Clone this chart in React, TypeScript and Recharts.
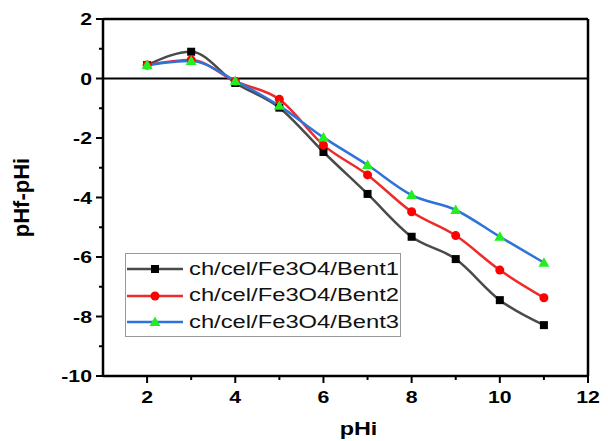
import React from 'react';
import { LineChart, Line, XAxis, YAxis, ReferenceLine, Legend, Label } from 'recharts';

const pHi = [2, 3, 4, 5, 6, 7, 8, 9, 10, 11];
const bent1 = [0.45, 0.9, -0.15, -0.98, -2.47, -3.88, -5.32, -6.07, -7.45, -8.29];
const bent2 = [0.45, 0.62, -0.1, -0.7, -2.24, -3.24, -4.48, -5.28, -6.44, -7.37];
const bent3 = [0.45, 0.59, -0.08, -0.92, -1.98, -2.91, -3.92, -4.42, -5.32, -6.19];
const seriesNames = ['ch/cel/Fe3O4/Bent1', 'ch/cel/Fe3O4/Bent2', 'ch/cel/Fe3O4/Bent3'];
const xTicks = [2, 3, 4, 5, 6, 7, 8, 9, 10, 11, 12];
const yTicks = [-10, -9, -8, -7, -6, -5, -4, -3, -2, -1, 0, 1, 2];

const data = pHi.map((x, i) => ({ x, b1: bent1[i], b2: bent2[i], b3: bent3[i] }));

const FONT = "Arial, 'Liberation Sans', sans-serif";
const LINE_COLORS = ['#4a4a4a', '#ee2a2a', '#2e73d8'];
const MARK_COLORS = ['#000000', '#ff0000', '#22ee22'];
const SX = 1.25;

const XTick = (props: any) => {
  const { x, y, payload } = props;
  const major = payload.value % 2 === 0;
  return (
    <g>
      <line x1={x} x2={x} y1={y} y2={y + (major ? 7 : 4)} stroke="#000" strokeWidth={2} />
      {major && (
        <text
          transform={`translate(${x},${y + 27}) scale(${SX},1)`}
          textAnchor="middle"
          fontFamily={FONT}
          fontWeight="bold"
          fontSize={17}
          fill="#000"
        >
          {payload.value}
        </text>
      )}
    </g>
  );
};

const YTick = (props: any) => {
  const { x, y, payload } = props;
  const major = Math.abs(payload.value) % 2 === 0;
  return (
    <g>
      <line x1={x} x2={x - (major ? 7 : 4)} y1={y} y2={y} stroke="#000" strokeWidth={2} />
      {major && (
        <text
          transform={`translate(${x - 11},${y}) scale(${SX},1)`}
          dy="0.36em"
          textAnchor="end"
          fontFamily={FONT}
          fontWeight="bold"
          fontSize={17}
          fill="#000"
        >
          {payload.value}
        </text>
      )}
    </g>
  );
};

const Square = (props: any) => {
  const { cx, cy, index } = props;
  return <rect key={'s' + index} x={cx - 4} y={cy - 4} width={8} height={8} fill={MARK_COLORS[0]} />;
};
const Circle = (props: any) => {
  const { cx, cy, index } = props;
  return <circle key={'c' + index} cx={cx} cy={cy} r={4.5} fill={MARK_COLORS[1]} />;
};
const Tri = (props: any) => {
  const { cx, cy, index } = props;
  return (
    <polygon
      key={'t' + index}
      points={`${cx},${cy - 5.5} ${cx - 5.5},${cy + 4} ${cx + 5.5},${cy + 4}`}
      fill={MARK_COLORS[2]}
    />
  );
};

const markerSvg = (i: number) => {
  if (i === 0) return <rect x={24} y={5} width={8} height={8} fill={MARK_COLORS[0]} />;
  if (i === 1) return <circle cx={28} cy={9} r={4.5} fill={MARK_COLORS[1]} />;
  return <polygon points="28,3.5 22.5,13 33.5,13" fill={MARK_COLORS[2]} />;
};

const LegendContent = () => (
  <div
    style={{
      border: '1px solid #999',
      background: '#fff',
      padding: '2px 0 2px 1px',
      fontFamily: FONT,
      fontSize: 18,
      color: '#111',
      width: 276,
      height: 84,
      boxSizing: 'border-box',
    }}
  >
    {seriesNames.map((n, i) => (
      <div key={n} style={{ display: 'flex', alignItems: 'center', height: 26.5 }}>
        <svg width={56} height={18} style={{ marginRight: 6, flex: 'none' }}>
          <line x1={0} x2={56} y1={9} y2={9} stroke={LINE_COLORS[i]} strokeWidth={2.5} />
          {markerSvg(i)}
        </svg>
        <span
          style={{
            display: 'inline-block',
            whiteSpace: 'nowrap',
            transform: 'scaleX(1.32)',
            transformOrigin: 'left center',
          }}
        >
          {n}
        </span>
      </div>
    ))}
  </div>
);

export default function App() {
  return (
    <div style={{ position: 'absolute', left: 0, top: 0, width: 608, height: 441, background: '#fff' }}>
      <LineChart width={608} height={441} data={data} margin={{ top: 19, right: 20, bottom: 0, left: 0 }}>
        <XAxis
          dataKey="x"
          type="number"
          domain={[1, 12]}
          ticks={xTicks}
          interval={0}
          tickSize={0}
          tickMargin={0}
          tickLine={false}
          tick={<XTick />}
          axisLine={{ stroke: '#000', strokeWidth: 2.5 }}
          height={65}
        >
          <Label
            content={(p: any) => {
              const vb = p.viewBox;
              const cx = vb.x + vb.width / 2 + 13;
              const cy = vb.y + 59;
              return (
                <text
                  transform={`translate(${cx},${cy}) scale(1.3,1)`}
                  textAnchor="middle"
                  fontFamily={FONT}
                  fontWeight="bold"
                  fontSize={18}
                  fill="#000"
                >
                  pHi
                </text>
              );
            }}
          />
        </XAxis>
        <YAxis
          type="number"
          domain={[-10, 2]}
          ticks={yTicks}
          interval={0}
          tickSize={0}
          tickMargin={0}
          tickLine={false}
          tick={<YTick />}
          axisLine={{ stroke: '#000', strokeWidth: 2.5 }}
          width={103}
        >
          <Label
            content={(p: any) => {
              const vb = p.viewBox;
              const cx = 29;
              const cy = vb.y + vb.height / 2;
              return (
                <text
                  x={cx}
                  y={cy}
                  transform={`rotate(-90 ${cx} ${cy})`}
                  textAnchor="middle"
                  fontFamily={FONT}
                  fontWeight="bold"
                  fontSize={22}
                  fill="#000"
                >
                  pHf-pHi
                </text>
              );
            }}
          />
        </YAxis>
        <ReferenceLine y={2} stroke="#000" strokeWidth={2.5} />
        <ReferenceLine x={12} stroke="#000" strokeWidth={2.5} />
        <ReferenceLine y={0} stroke="#000" strokeWidth={2} />
        <Line dataKey="b1" name={seriesNames[0]} type="monotone" stroke={LINE_COLORS[0]} strokeWidth={2.5} dot={<Square />} isAnimationActive={false} />
        <Line dataKey="b2" name={seriesNames[1]} type="monotone" stroke={LINE_COLORS[1]} strokeWidth={2.5} dot={<Circle />} isAnimationActive={false} />
        <Line dataKey="b3" name={seriesNames[2]} type="monotone" stroke={LINE_COLORS[2]} strokeWidth={2.5} dot={<Tri />} isAnimationActive={false} />
        <Legend
          layout="horizontal"
          verticalAlign="middle"
          align="center"
          content={<LegendContent />}
          wrapperStyle={{ position: 'absolute', left: 125, top: 253, width: 276, height: 84, bottom: 'auto', right: 'auto' }}
        />
      </LineChart>
    </div>
  );
}
